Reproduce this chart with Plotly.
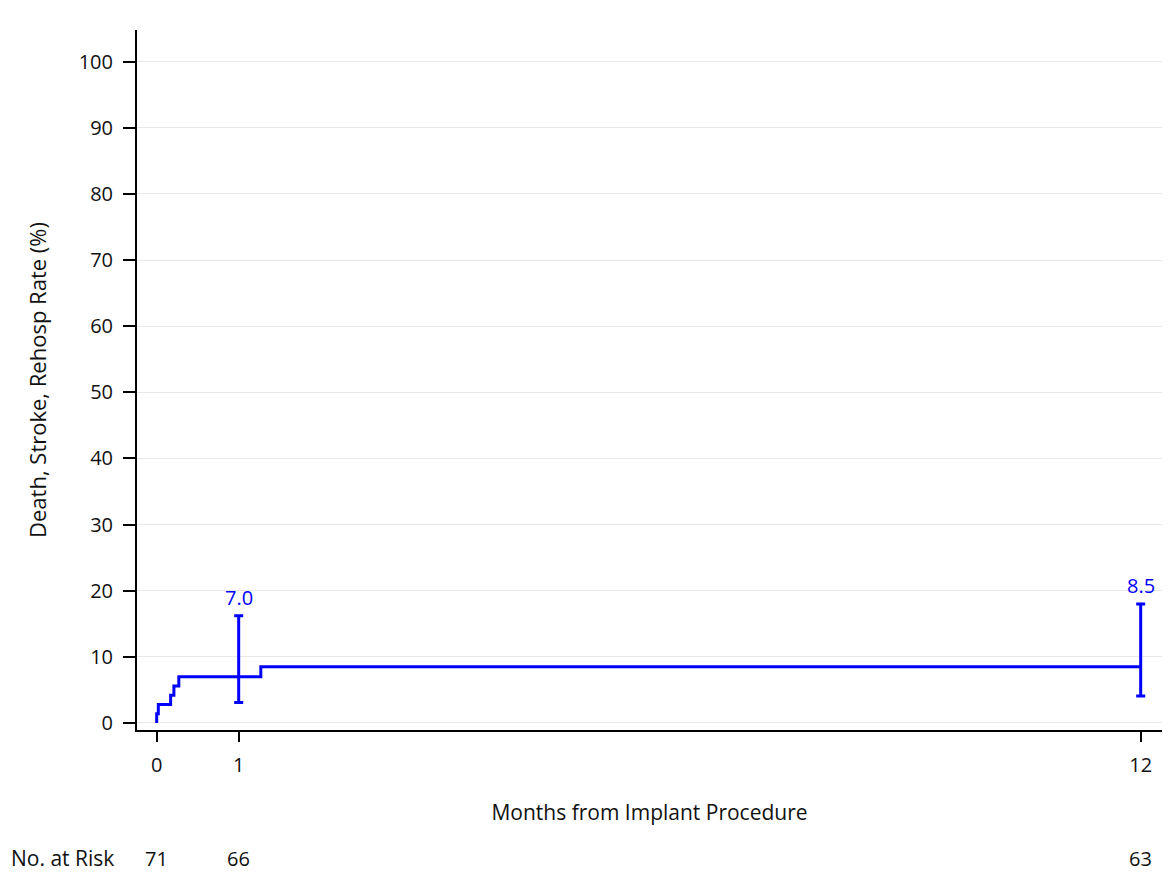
import plotly.graph_objects as go

# Kaplan-Meier style cumulative event rate (%)
times = [0, 0, 0.02, 0.17, 0.21, 0.27, 1.27, 12]
rates = [0, 1.4, 2.8, 4.2, 5.6, 7.0, 8.5, 8.5]

# Point estimates with confidence intervals
ci_months = [1, 12]
ci_est = [7.0, 8.5]
ci_upper = [16.2, 18.0]
ci_lower = [3.1, 4.1]
ci_labels = ["7.0", "8.5"]

# Number at risk
risk_months = [0, 1, 12]
risk_counts = ["71", "66", "63"]

y_ticks = [0, 10, 20, 30, 40, 50, 60, 70, 80, 90, 100]
x_ticks = [0, 1, 12]

FONT = "Open Sans"
FS_TITLE = 21
FS_NUM = 20
BLUE = "#0000FF"
TXT = "#111111"

fig = go.Figure()
fig.add_trace(go.Scatter(
    x=times, y=rates, mode="lines", line=dict(color=BLUE, width=3, shape="hv"),
    showlegend=False, hoverinfo="skip"))
fig.add_trace(go.Scatter(
    x=ci_months, y=ci_est, mode="markers",
    marker=dict(size=1, color=BLUE, opacity=0),
    error_y=dict(type="data", symmetric=False,
                 array=[u - e for u, e in zip(ci_upper, ci_est)],
                 arrayminus=[e - l for e, l in zip(ci_est, ci_lower)],
                 color=BLUE, thickness=3, width=4.5),
    showlegend=False, hoverinfo="skip"))

for m, u, lab in zip(ci_months, ci_upper, ci_labels):
    fig.add_annotation(x=m, y=u, text=lab, showarrow=False, yanchor="bottom",
                       yshift=3, font=dict(family=FONT, size=FS_NUM, color=BLUE))

fig.add_annotation(x=0, xref="paper", xanchor="left", xshift=-128,
                   y=-0.183, yref="paper", yanchor="middle", text="No. at Risk",
                   showarrow=False, font=dict(family=FONT, size=FS_TITLE, color=TXT))
for m, c in zip(risk_months, risk_counts):
    fig.add_annotation(x=m, y=-0.183, yref="paper", yanchor="middle", text=c,
                       showarrow=False, font=dict(family=FONT, size=FS_NUM, color=TXT))

fig.update_layout(
    width=1162, height=880,
    margin=dict(l=129, r=8, t=22, b=158),
    plot_bgcolor="white", paper_bgcolor="white",
    font=dict(family=FONT, size=FS_NUM, color=TXT),
    xaxis=dict(range=[-0.24, 12.26], tickvals=x_ticks, ticktext=[str(v) for v in x_ticks],
               showgrid=False, zeroline=False, showline=True, linecolor="black", linewidth=2,
               ticks="outside", ticklen=10, tickwidth=2, tickcolor="black",
               ticklabelstandoff=6,
               title=dict(text="Months from Implant Procedure", standoff=28,
                          font=dict(family=FONT, size=FS_TITLE, color=TXT)),
               tickfont=dict(family=FONT, size=FS_NUM, color=TXT)),
    yaxis=dict(range=[-1.06, 104.8], tickvals=y_ticks,
               showgrid=True, gridcolor="#e8e8e8", gridwidth=1, zeroline=False,
               showline=True, linecolor="black", linewidth=2,
               ticks="outside", ticklen=12, tickwidth=2, tickcolor="black",
               ticklabelstandoff=6,
               title=dict(text="Death, Stroke, Rehosp Rate (%)", standoff=26,
                          font=dict(family=FONT, size=22, color=TXT)),
               tickfont=dict(family=FONT, size=FS_NUM, color=TXT)),
)

fig.write_html("out.html")
